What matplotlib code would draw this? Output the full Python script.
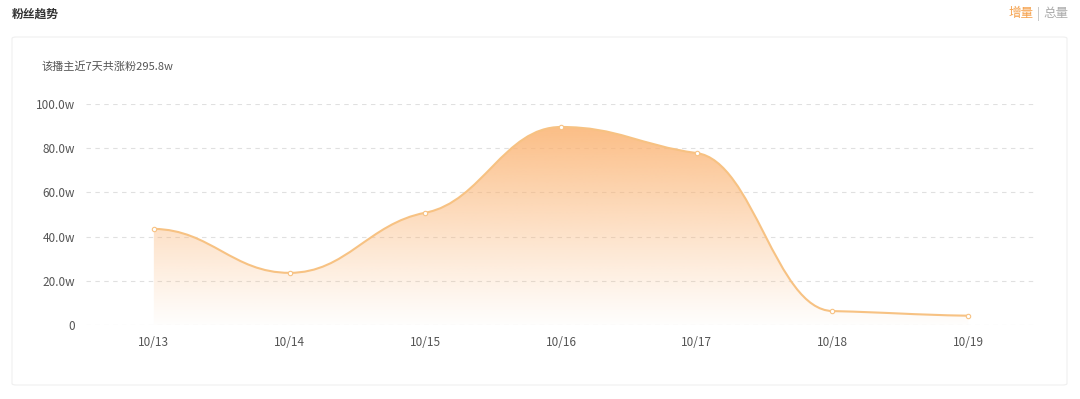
import numpy as np
import matplotlib.pyplot as plt
from matplotlib.path import Path
from matplotlib.patches import PathPatch, FancyBboxPatch

plt.rcParams['font.family'] = ['Noto Sans CJK SC', 'DejaVu Sans']

dates = ["10/13", "10/14", "10/15", "10/16", "10/17", "10/18", "10/19"]
fans = [43.5, 23.6, 50.8, 89.6, 77.8, 6.3, 4.2]
yticks = [0, 20, 40, 60, 80, 100]
ytick_labels = ["0", "20.0w", "40.0w", "60.0w", "80.0w", "100.0w"]

W, H = 1080, 399
line_color = "#f7c283"


def smooth_path(xs, ys, damp=0.35, reach=0.42):
    """Monotone cubic with damped tangents and long handles, as a bezier Path."""
    xs = np.asarray(xs, float)
    ys = np.asarray(ys, float)
    n = len(xs)
    h = np.diff(xs)
    s = np.diff(ys) / h
    t = np.zeros(n)
    for i in range(1, n - 1):
        p = (s[i - 1] * h[i] + s[i] * h[i - 1]) / (h[i - 1] + h[i])
        t[i] = (np.sign(s[i - 1]) + np.sign(s[i])) * min(abs(s[i - 1]), abs(s[i]), 0.5 * abs(p))
    t *= damp
    t[0] = s[0] * 0.05
    t[-1] = s[-1] * 0.5
    verts = [(xs[0], ys[0])]
    codes = [Path.MOVETO]
    for i in range(n - 1):
        dx = h[i] * reach
        verts += [(xs[i] + dx, ys[i] + dx * t[i]),
                  (xs[i + 1] - dx, ys[i + 1] - dx * t[i + 1]),
                  (xs[i + 1], ys[i + 1])]
        codes += [Path.CURVE4] * 3
    return verts, codes


fig = plt.figure(figsize=(W / 100, H / 100), dpi=100)

# card
card = FancyBboxPatch((12 / W, 1 - 385 / H), 1055 / W, 348 / H,
                      boxstyle="round,pad=0,rounding_size=0.004",
                      transform=fig.transFigure, facecolor="white",
                      edgecolor="#efefef", linewidth=0.8, zorder=-5)
fig.patches.append(card)

fig.text(12 / W, 1 - 14 / H, "粉丝趋势", fontsize=8.5, fontweight="bold",
         color="#333333", va="center", ha="left")
fig.text(1034 / W, 1 - 14 / H, "增量", fontsize=9, color="#f5a04a",
         va="center", ha="right")
fig.text(1038 / W, 1 - 14 / H, "|", fontsize=9, color="#bbbbbb",
         va="center", ha="center")
fig.text(1043 / W, 1 - 14 / H, "总量", fontsize=9, color="#aaaaaa",
         va="center", ha="left")
fig.text(42 / W, 1 - 67 / H, "该播主近7天共涨粉295.8w", fontsize=8,
         color="#555555", va="center", ha="left")

ax = fig.add_axes([86 / W, 74 / H, 950 / W, 221 / H])
ax.set_zorder(2)
ax.set_xlim(-0.5, len(dates) - 0.5)
ax.set_ylim(0, 100)
x = np.arange(len(dates))

verts, codes = smooth_path(x, fans)

# fill region under curve with vertical gradient
fill_verts = verts + [(x[-1], 0), (x[0], 0), verts[0]]
fill_codes = codes + [Path.LINETO, Path.LINETO, Path.CLOSEPOLY]
clip = PathPatch(Path(fill_verts, fill_codes), facecolor="none", edgecolor="none")
ax.add_patch(clip)

top = max(fans)
grad = np.zeros((256, 2, 4))
t = np.linspace(0, 1, 256)[:, None]  # 0 bottom -> 1 top
grad[..., 0] = 251 / 255
grad[..., 1] = 178 / 255
grad[..., 2] = 112 / 255
grad[..., 3] = 0.02 + 0.83 * t ** 1.1
img = ax.imshow(grad, extent=[-0.5, len(dates) - 0.5, 0, top], origin="lower",
                aspect="auto", zorder=2, interpolation="bilinear")
img.set_clip_path(clip)

ax.add_patch(PathPatch(Path(verts, codes), facecolor="none",
                       edgecolor=line_color, linewidth=1.5, zorder=3))
ax.scatter(x, fans, s=10, facecolor="white", edgecolor=line_color,
           linewidth=0.8, zorder=4)

for y in yticks:
    ax.axhline(y, color="#e0e0e0", linestyle=(0, (4, 4)), linewidth=0.8, zorder=1)

ax.set_xticks(x)
ax.set_xticklabels(dates)
ax.set_yticks(yticks)
ax.set_yticklabels(ytick_labels)
ax.tick_params(length=0, labelsize=8.5, colors="#555555", pad=8)
for s in ax.spines.values():
    s.set_visible(False)
ax.patch.set_alpha(0)

fig.savefig("out.png", dpi=100)
